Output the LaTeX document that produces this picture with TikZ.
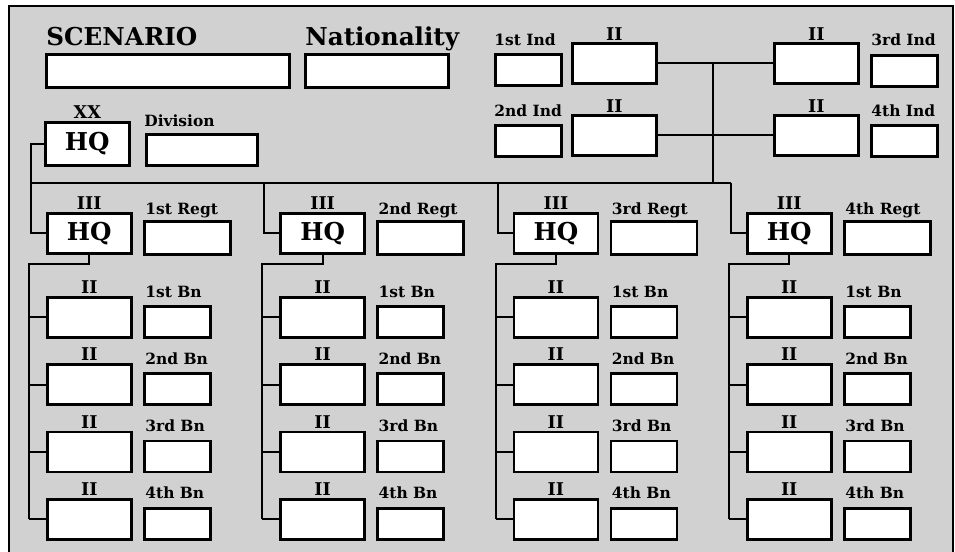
\documentclass[tikz,border=0pt]{standalone}
\usepackage{fontspec}
\setmainfont{DejaVu Serif}
\usetikzlibrary{positioning}

\begin{document}
\begin{tikzpicture}[x=0.02cm,y=-0.02cm,
  field/.style={draw,line width=1.5pt,fill=white,inner sep=0pt,anchor=north west},
  unit/.style={field,minimum width=1.68cm,minimum height=0.8cm},
  hq/.style={unit,font=\bfseries\fontsize{14}{14}\selectfont},
  namebox/.style={field,minimum width=1.32cm,minimum height=0.62cm},
  tag/.style={font=\bfseries\fontsize{8.8}{10}\selectfont,inner sep=0pt,anchor=base west},
  bigtag/.style={tag,font=\bfseries\fontsize{14}{16}\selectfont},
  echelon/.style={font=\bfseries\fontsize{10}{10}\selectfont,inner sep=0pt},
  link/.style={line width=1.1pt}
]
  \useasboundingbox (0,0) rectangle (955,551);
  \fill[black!18] (9,6) rectangle (953,560);
  \draw[line width=1.6pt] (9,6) rectangle (953,560);

  % heading
  \node[bigtag] (scenariotag) at (46,45) {SCENARIO};
  \node[field,minimum width=4.86cm,minimum height=0.66cm] (scenario) at (45,53) {};
  \node[bigtag] (nationtag) at (305,45) {Nationality};
  \node[field,minimum width=2.86cm,minimum height=0.66cm] (nation) at (304,53) {};

  % division
  \node[hq,minimum height=0.86cm] (divhq) at (44,121) {HQ};
  \node[echelon,above=0.05cm of divhq] (divech) {XX};
  \node[tag] (divtag) at (144,126) {Division};
  \node[field,minimum width=2.22cm,minimum height=0.62cm] (divname) at (145,133) {};

  % independent battalions
  \node[unit] (ind1) at (571,42) {};
  \node[unit] (ind2) at (571,114) {};
  \node[unit] (ind3) at (773,42) {};
  \node[unit] (ind4) at (773,114) {};
  \foreach \i in {1,...,4}
    \node[echelon,above=0.03cm of ind\i] (indech\i) {II};
  \node[tag] (indtag1) at (494,45) {1st Ind};
  \node[namebox] (indname1) at (494,53) {};
  \node[tag] (indtag2) at (494,116) {2nd Ind};
  \node[namebox] (indname2) at (494,124) {};
  \node[tag] (indtag3) at (871,45) {3rd Ind};
  \node[namebox] (indname3) at (870,54) {};
  \node[tag] (indtag4) at (871,116) {4th Ind};
  \node[namebox] (indname4) at (870,124) {};
  \draw[link] (ind1) -- (ind3);
  \draw[link] (ind2) -- (ind4);
  \coordinate (indjoin) at (713,183);
  \draw[link] (indjoin) -- (indjoin |- ind1.east);

  % regiments and their battalions
  \foreach \c/\ord [evaluate=\c as \x using 46+233.3*(\c-1)] in {1/1st,2/2nd,3/3rd,4/4th}{
    \node[hq] (regt\c) at (\x,212) {HQ};
    \node[echelon,above=0.05cm of regt\c] (regtech\c) {III};
    \node[tag] (regttag\c) at (\x+99,214) {\ord\ Regt};
    \node[field,minimum width=1.72cm,minimum height=0.66cm] (regtname\c) at (\x+97,220) {};
    \coordinate (drop\c) at (\x-15,183);
    \coordinate (spine\c) at (\x-17,264);
    \draw[link] (drop\c) |- (regt\c);
    \foreach \b/\bord [evaluate=\b as \y using 296+67.3*(\b-1)] in {1/1st,2/2nd,3/3rd,4/4th}{
      \node[unit] (bn\c\b) at (\x,\y) {};
      \node[echelon,above=0.04cm of bn\c\b] (bnech\c\b) {II};
      \node[tag] (bntag\c\b) at (\x+99,\y+1) {\bord\ Bn};
      \node[namebox] (bnname\c\b) at (\x+97,\y+9) {};
      \draw[link] (spine\c |- bn\c\b) -- (bn\c\b);
    }
    \draw[link] (regt\c.south) |- (spine\c) -- (spine\c |- bn\c4);
  }
  \draw[link] (divhq) -| (drop1) -- (drop4);
\end{tikzpicture}
\end{document}
